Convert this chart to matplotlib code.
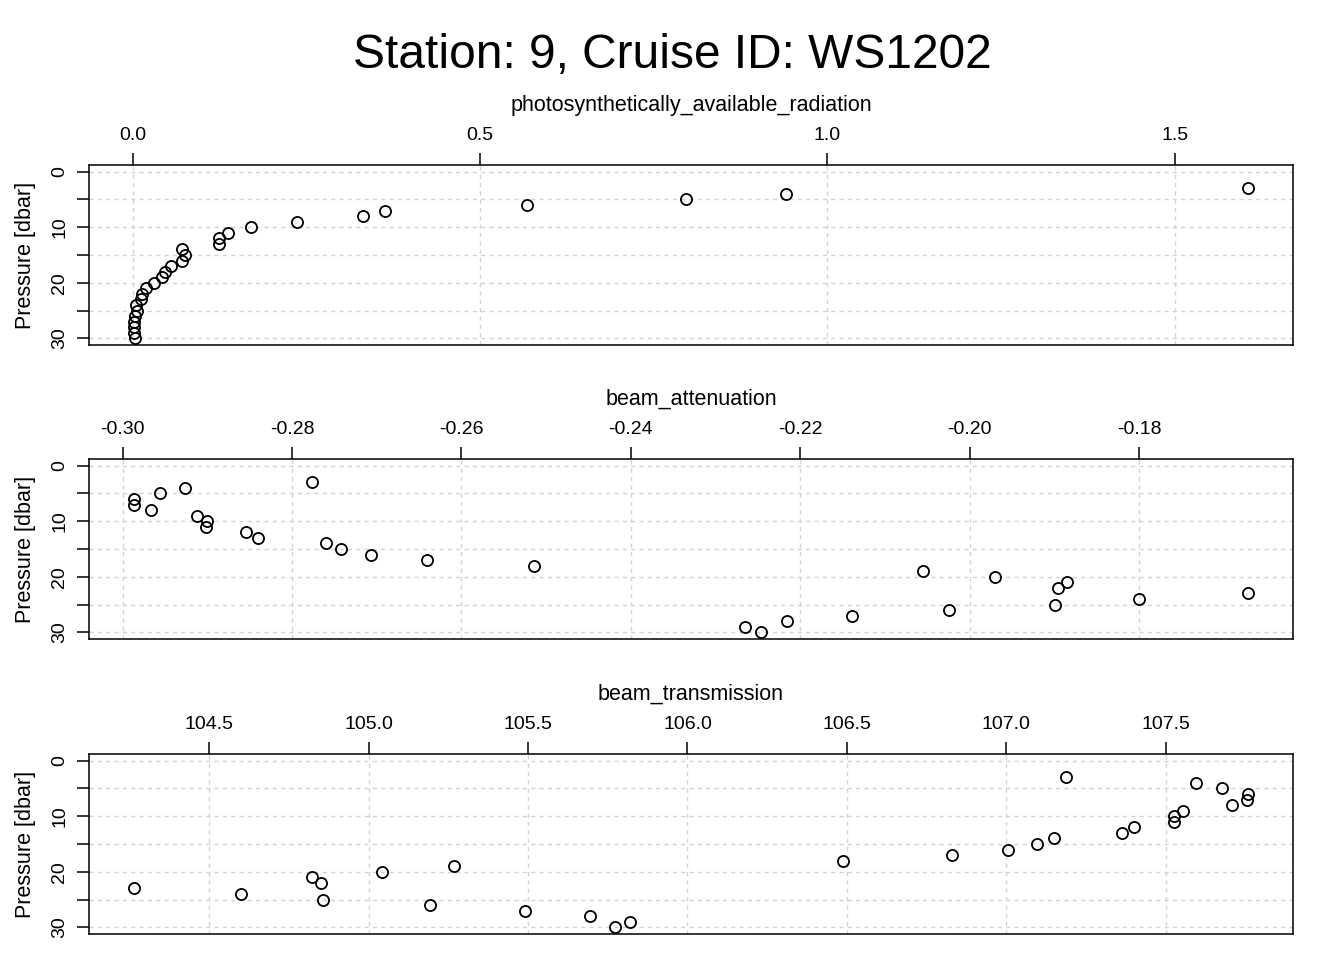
import matplotlib
matplotlib.use("Agg")
import matplotlib.pyplot as plt
from matplotlib.ticker import FixedLocator, FormatStrFormatter, FuncFormatter

plt.rcParams["font.family"] = ["Liberation Sans", "DejaVu Sans"]

# pressure levels (dbar), same for all three profiles
pressure = [3, 4, 5, 6, 7, 8, 9, 10, 11, 12, 13, 14, 15, 16,
            17, 18, 19, 20, 21, 22, 23, 24, 25, 26, 27, 28, 29, 30]

par = [1.606, 0.941, 0.797, 0.568, 0.363, 0.331, 0.237, 0.170, 0.137, 0.125,
       0.125, 0.071, 0.076, 0.071, 0.056, 0.047, 0.042, 0.031, 0.020, 0.013,
       0.012, 0.005, 0.007, 0.003, 0.0015, 0.0015, 0.0015, 0.004]

beam_att = [-0.2776, -0.2926, -0.2956, -0.2987, -0.2986, -0.2967, -0.2912,
            -0.2900, -0.2902, -0.2854, -0.2840, -0.2760, -0.2742, -0.2707,
            -0.2641, -0.2514, -0.2055, -0.1970, -0.1885, -0.1896, -0.1671,
            -0.1800, -0.1899, -0.2025, -0.2139, -0.2216, -0.2265, -0.2246]

beam_trans = [107.189, 107.594, 107.676, 107.760, 107.757, 107.707, 107.556,
              107.526, 107.528, 107.401, 107.363, 107.150, 107.096, 107.005,
              106.829, 106.489, 105.268, 105.043, 104.821, 104.849, 104.262,
              104.598, 104.857, 105.191, 105.490, 105.695, 105.821, 105.773]

panels = [
    ("photosynthetically_available_radiation", par, [0.0, 0.5, 1.0, 1.5], "%.1f"),
    ("beam_attenuation", beam_att, [-0.30, -0.28, -0.26, -0.24, -0.22, -0.20, -0.18], "%.2f"),
    ("beam_transmission", beam_trans, [104.5, 105.0, 105.5, 106.0, 106.5, 107.0, 107.5], "%.1f"),
]

W, H = 1344, 960
fig = plt.figure(figsize=(W / 100, H / 100), dpi=100)
fig.text(0.5, 1 - 55 / H, "Station: 9, Cruise ID: WS1202", ha="center", va="center",
         fontsize=34.5)

box_tops = [165, 459, 754]
for (name, vals, xt, fmt), top in zip(panels, box_tops):
    ax = fig.add_axes([89 / W, 1 - (top + 180) / H, 1204 / W, 180 / H])
    ax.plot(vals, pressure, linestyle="none", marker="o", markersize=8,
            markerfacecolor="none", markeredgecolor="black", markeredgewidth=1.3)
    ax.margins(x=0.04)
    ax.set_ylim(31.2, -1.2)

    ax.xaxis.set_major_locator(FixedLocator(xt))
    ax.xaxis.set_major_formatter(FormatStrFormatter(fmt))
    ax.xaxis.tick_top()
    ax.xaxis.set_label_position("top")
    ax.set_xlabel(name, fontsize=15.5, labelpad=12)

    ax.yaxis.set_major_locator(FixedLocator([0, 5, 10, 15, 20, 25, 30]))
    ax.yaxis.set_major_formatter(FuncFormatter(lambda v, p: "%d" % v if v % 10 == 0 else ""))
    ax.set_ylabel("Pressure [dbar]", fontsize=15.5, labelpad=11)
    for lab in ax.get_yticklabels():
        lab.set_rotation(90)
        lab.set_va("center")

    ax.tick_params(axis="both", direction="out", length=9, width=1.1,
                   labelsize=14)
    ax.tick_params(axis="x", pad=6)
    ax.tick_params(axis="y", pad=6)
    for s in ax.spines.values():
        s.set_linewidth(1.1)

    ax.grid(True, color="#d3d3d3", linestyle=(0, (3, 3)), linewidth=1.0)
    ax.set_axisbelow(True)

fig.savefig("out.png", dpi=100)
